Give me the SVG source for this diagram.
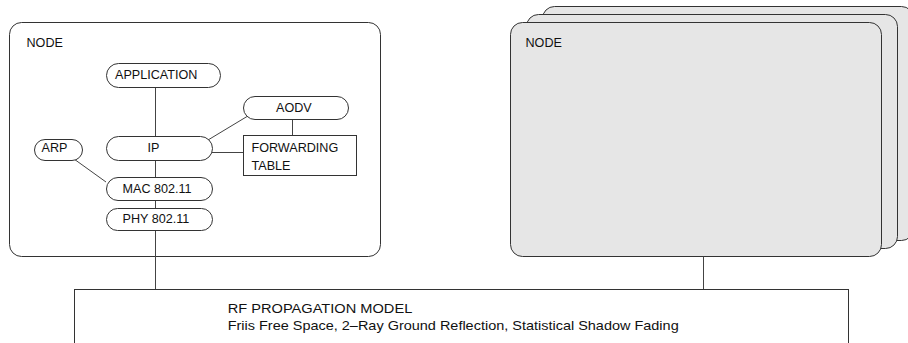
<svg xmlns="http://www.w3.org/2000/svg" width="908" height="343" viewBox="0 0 908 343">
<style>
text{font-family:"Liberation Sans",Arial,sans-serif;font-size:12.6px;fill:#111}
.rf{font-size:13.2px}
.box{fill:#fff;stroke:#333;stroke-width:1}
.gray{fill:#e6e6e6;stroke:#333;stroke-width:1}
.pill{fill:#fff;stroke:#333;stroke-width:1}
.ln{stroke:#444;stroke-width:1;fill:none}
</style>
<rect width="908" height="343" fill="#fff"/>
<g id="node-left">
<rect class="box" x="9.5" y="22.5" width="371" height="234" rx="12"/>
<text x="26.5" y="46.5">NODE</text>
</g>
<g id="node-stack">
<rect class="gray" x="542.5" y="6.5" width="371" height="234" rx="12"/>
<rect class="gray" x="526.5" y="14.5" width="371" height="234" rx="12"/>
<rect class="gray" x="510.5" y="22.5" width="371" height="234" rx="12"/>
<text x="525.5" y="46.5">NODE</text>
</g>
<g id="connectors">
<line class="ln" x1="155.5" y1="87" x2="155.5" y2="136"/>
<line class="ln" x1="155.5" y1="160" x2="155.5" y2="177"/>
<line class="ln" x1="155.5" y1="200" x2="155.5" y2="208"/>
<line class="ln" x1="155.5" y1="230" x2="155.5" y2="289"/>
<line class="ln" x1="74" y1="159" x2="106" y2="182"/>
<line class="ln" x1="247" y1="116.5" x2="208" y2="140"/>
<line class="ln" x1="212" y1="152.5" x2="243" y2="152.5"/>
<line class="ln" x1="292.5" y1="119" x2="292.5" y2="135"/>
<line class="ln" x1="703.5" y1="256.5" x2="703.5" y2="289"/>
</g>
<g id="application">
<rect class="pill" x="106.5" y="63.5" width="114" height="24" rx="12"/>
<text x="115" y="78.5">APPLICATION</text>
</g>
<g id="aodv">
<rect class="pill" x="243.5" y="96.5" width="105" height="23" rx="11.5"/>
<text x="276" y="111.5">AODV</text>
</g>
<g id="arp">
<rect class="pill" x="34.5" y="139.5" width="48" height="21" rx="10.5"/>
<text x="41.5" y="151.5">ARP</text>
</g>
<g id="ip">
<rect class="pill" x="106.5" y="136.5" width="106" height="24" rx="12"/>
<text x="147.5" y="151.5">IP</text>
</g>
<g id="forwarding-table">
<rect class="box" x="243.5" y="135.5" width="113" height="40"/>
<text x="251.5" y="151.5">FORWARDING</text>
<text x="251.5" y="169.5">TABLE</text>
</g>
<g id="mac">
<rect class="pill" x="106.5" y="177.5" width="106" height="23" rx="11.5"/>
<text x="122.5" y="192.5">MAC 802.11</text>
</g>
<g id="phy">
<rect class="pill" x="106.5" y="208.5" width="106" height="22" rx="11"/>
<text x="122.5" y="222.5">PHY 802.11</text>
</g>
<g id="rf-model">
<rect class="box" x="74.5" y="289.5" width="774" height="70"/>
<text class="rf" x="227.7" y="312.7" textLength="184.6" lengthAdjust="spacingAndGlyphs">RF PROPAGATION MODEL</text>
<text class="rf" x="227.7" y="330" textLength="451" lengthAdjust="spacingAndGlyphs">Friis Free Space, 2–Ray Ground Reflection, Statistical Shadow Fading</text>
</g>
</svg>
